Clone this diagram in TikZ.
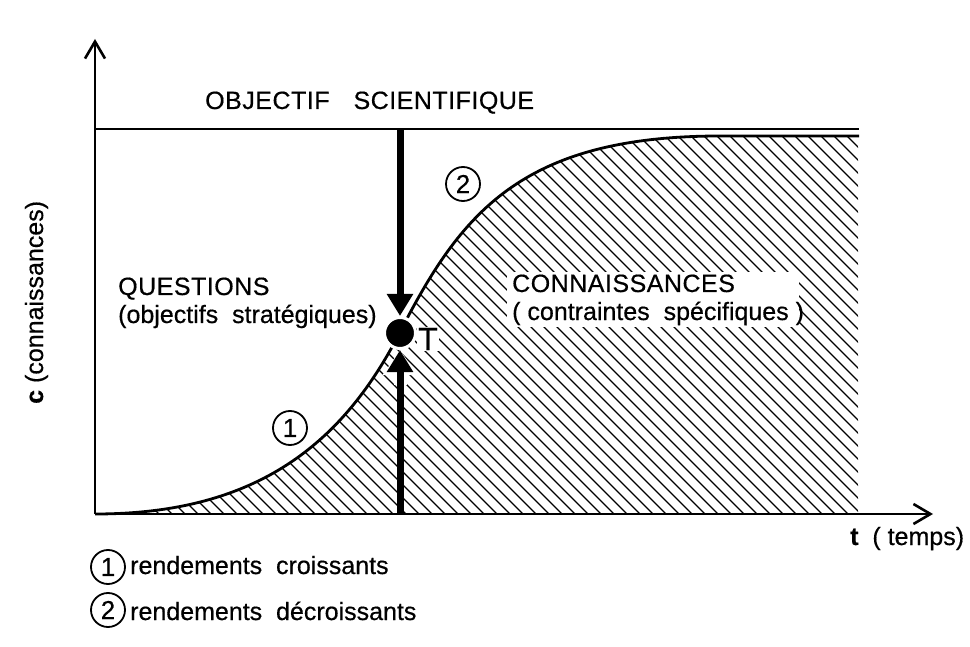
\documentclass[tikz,border=0pt]{standalone}
\usepackage{fontspec}
\setmainfont{Liberation Sans}[FakeBold=0.5]
\newfontfamily\capsfont{Liberation Sans}[LetterSpace=2, FakeBold=0.5]
\usetikzlibrary{arrows.meta}
\begin{document}
\begin{tikzpicture}[x=1pt,y=-1pt,
  txt/.style={font=\fontsize{25}{29}\selectfont, inner sep=0pt},
  axisline/.style={line width=2.6pt, -{Straight Barb[length=17pt,width=20pt]}},
  hatch/.style={line width=1.3pt},
  curveline/.style={line width=2.8pt, line join=round},
  bigarrow/.style={line width=7pt, -{Triangle[length=22pt,width=25pt]}},
  halo/.style={white, line width=13pt, -{Triangle[length=25pt,width=33pt]}},
  numcirc/.style={circle, draw, line width=1.8pt, minimum size=34pt, inner sep=0pt, font=\fontsize{26}{26}\selectfont}]
\useasboundingbox (0,0) rectangle (970,647);

% hatching under the curve
\begin{scope}
  \clip (95,514) .. controls (250,514) and (340,450) .. (400,332)
        .. controls (460,215) and (520,136) .. (720,136) -- (858,136) -- (858,514) -- cycle;
  \foreach \k in {-431,-418,...,870} \draw[hatch] (\k,80) -- (\k+480,560);
\end{scope}

% curve
\draw[curveline] (95,514) .. controls (250,514) and (340,450) .. (400,332)
        .. controls (460,215) and (520,136) .. (720,136) -- (859,136);

% axes
\coordinate (O) at (95,514);
\coordinate (ytip) at (95,39);
\coordinate (xtip) at (933,514);
\coordinate (topL) at (95,129);
\coordinate (topR) at (859,129);
\draw[line width=2pt] (topL) -- (topR);
\draw[axisline] (O) -- (ytip);
\draw[axisline] (O) -- (xtip);

% connaissances box
\node[fill=white, inner sep=0pt, anchor=north west, minimum width=292pt, minimum height=55pt] (cbox) at (507,272) {};
\node[txt, anchor=base west] (conn) at (512,292) {\capsfont CONNAISSANCES};
\node[txt, anchor=base west] (contr) at (512,320) {( contraintes\ \ spécifiques )};

% point T and arrows
\coordinate (topA) at (400,129);
\coordinate (botA) at (400,514);
\coordinate (haloA) at (400,385);
\node[circle, fill=black, draw=white, line width=3pt, minimum size=31pt, inner sep=0pt] (Tp) at (400,333) {};
\draw[halo] (haloA) -- (Tp.south);
\draw[bigarrow] (topA) -- (Tp.north);
\draw[bigarrow] (botA) -- (Tp.south);
\node[fill=white, inner sep=1pt, font=\fontsize{32}{32}\selectfont] (Tl) at (428,339) {T};

% texts
\node[txt, anchor=base west] (obj) at (205,109) {\capsfont OBJECTIF\hspace{24pt}SCIENTIFIQUE};
\node[txt, anchor=base west] (quest) at (118,295) {\capsfont QUESTIONS};
\node[txt, anchor=base west] (objs) at (118,323) {(objectifs\ \ stratégiques)};

% numbered circles on curve
\node[numcirc] (n1) at (290,428) {1};
\node[numcirc] (n2) at (463,184) {2};

% axis labels
\node[txt, rotate=90, anchor=base west] (ylab) at (43,404) {\textbf{c} (connaissances)};
\node[txt, anchor=base west] (xlab) at (850,545) {\textbf{t}\ \ ( temps)};

% legend
\node[numcirc] (l1) at (108,567) {1};
\node[txt, anchor=base west] (leg1) at (130,574) {rendements\ \ croissants};
\node[numcirc] (l2) at (108,610) {2};
\node[txt, anchor=base west] (leg2) at (130,620) {rendements\ \ décroissants};
\end{tikzpicture}
\end{document}
